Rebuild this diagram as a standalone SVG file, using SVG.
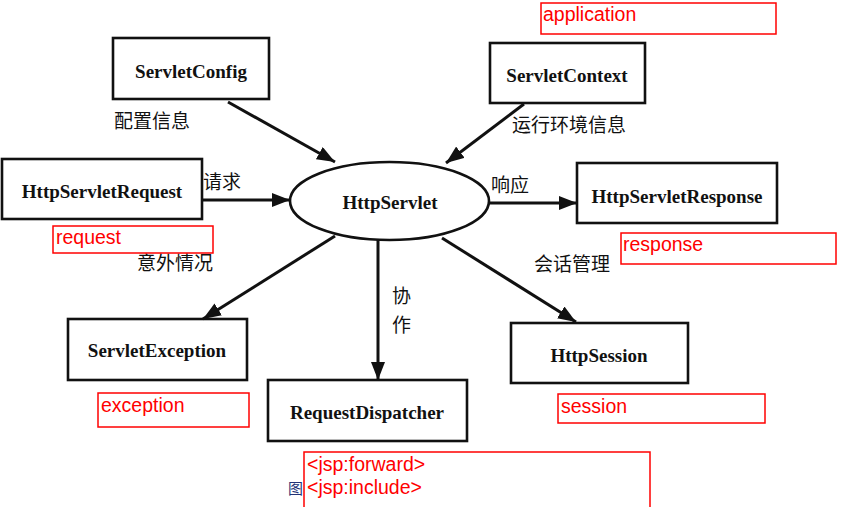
<svg xmlns="http://www.w3.org/2000/svg" width="848" height="507" viewBox="0 0 848 507">
<style>
.box{fill:none;stroke:#111;stroke-width:2.6}
.lbl{font-family:"Liberation Serif","Times New Roman",serif;font-size:19px;font-weight:bold;fill:#111;text-anchor:middle}
.cn{font-family:"Noto Sans CJK SC","Noto Sans",sans-serif;font-size:19px;fill:#111}
.edge{stroke:#111;stroke-width:3;fill:none;marker-end:url(#ah)}
.rbox{fill:none;stroke:#ff0000;stroke-width:1.5}
.rt{font-family:"Liberation Sans",Arial,sans-serif;font-size:19.5px;fill:#ff0000}
</style>
<defs>
<marker id="ah" markerUnits="userSpaceOnUse" markerWidth="20" markerHeight="14" refX="18" refY="7" orient="auto">
<path d="M0,0 L18,7 L0,14 z" fill="#111"/>
</marker>
</defs>
<rect width="848" height="507" fill="#fff"/>
<g id="connectors">
<line class="edge" x1="228" y1="102" x2="335" y2="162"/>
<line class="edge" x1="524" y1="104" x2="446" y2="163"/>
<line class="edge" x1="202" y1="200" x2="290" y2="200"/>
<line class="edge" x1="489" y1="203" x2="577" y2="203"/>
<line class="edge" x1="335" y1="236" x2="203" y2="319"/>
<line class="edge" x1="378" y1="240" x2="378" y2="380"/>
<line class="edge" x1="442" y1="238" x2="576" y2="322"/>
<text class="cn" x="114" y="128">配置信息</text>
<text class="cn" x="512" y="132">运行环境信息</text>
<text class="cn" x="203" y="189">请求</text>
<text class="cn" x="491" y="192">响应</text>
<text class="cn" x="137" y="270">意外情况</text>
<text class="cn" x="534" y="271">会话管理</text>
<text class="cn" x="392" y="303">协</text>
<text class="cn" x="392" y="332">作</text>
</g>
<g id="ServletConfig">
<rect class="box" x="113" y="38" width="156" height="61"/>
<text class="lbl" x="191" y="78">ServletConfig</text>
</g>
<g id="ServletContext">
<rect class="box" x="490" y="43" width="155" height="60"/>
<text class="lbl" x="567" y="82">ServletContext</text>
</g>
<g id="HttpServletRequest">
<rect class="box" x="2" y="159" width="200" height="60"/>
<text class="lbl" x="102" y="198">HttpServletRequest</text>
</g>
<g id="HttpServlet">
<ellipse cx="389.5" cy="201" rx="99.5" ry="39" fill="none" stroke="#111" stroke-width="2.6"/>
<text class="lbl" x="390" y="209">HttpServlet</text>
</g>
<g id="HttpServletResponse">
<rect class="box" x="577" y="163" width="200" height="60"/>
<text class="lbl" x="677" y="203">HttpServletResponse</text>
</g>
<g id="ServletException">
<rect class="box" x="68" y="319" width="179" height="61"/>
<text class="lbl" x="157" y="357">ServletException</text>
</g>
<g id="RequestDispatcher">
<rect class="box" x="268" y="380" width="199" height="61"/>
<text class="lbl" x="367" y="419">RequestDispatcher</text>
</g>
<g id="HttpSession">
<rect class="box" x="511" y="323" width="177" height="60"/>
<text class="lbl" x="599" y="362">HttpSession</text>
</g>
<g id="notes">
<rect class="rbox" x="541" y="3" width="235" height="31"/>
<text class="rt" x="543" y="21">application</text>
<rect class="rbox" x="53" y="226" width="160" height="27"/>
<text class="rt" x="56" y="244">request</text>
<rect class="rbox" x="621" y="233" width="215" height="31"/>
<text class="rt" x="623" y="251">response</text>
<rect class="rbox" x="98" y="393" width="151" height="34"/>
<text class="rt" x="101" y="412">exception</text>
<rect class="rbox" x="558" y="394" width="207" height="29"/>
<text class="rt" x="561" y="413">session</text>
<rect class="rbox" x="304" y="452" width="346" height="60"/>
<text class="rt" x="307" y="471">&lt;jsp:forward&gt;</text>
<text class="rt" x="307" y="494">&lt;jsp:include&gt;</text>
<text x="288" y="494" font-family="'Noto Sans CJK SC','Noto Sans',sans-serif" font-size="15" fill="#223377">图</text>
</g>
</svg>
